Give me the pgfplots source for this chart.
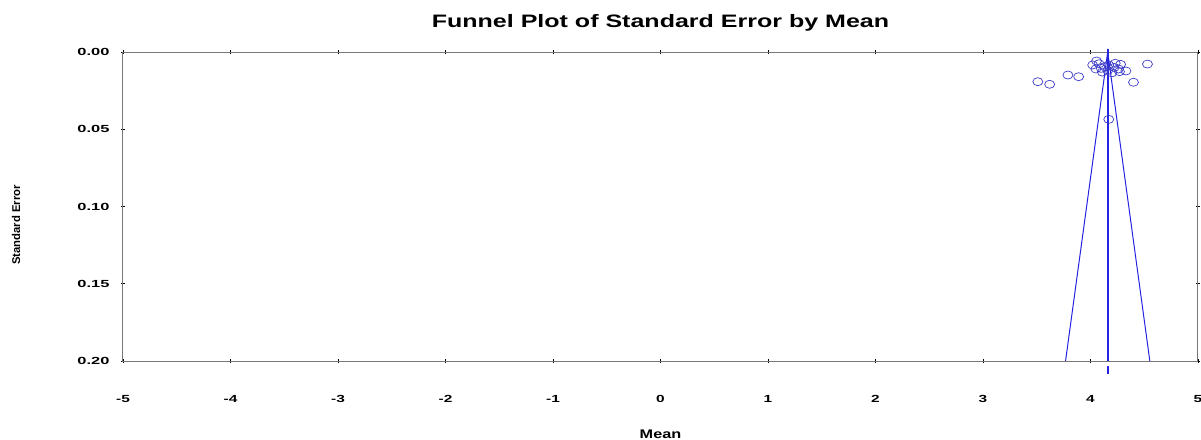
\documentclass[border=0pt]{standalone}
\usepackage{pgfplots}
\pgfplotsset{compat=1.18}
\usepackage{fontspec}
\setmainfont{Liberation Sans}
\definecolor{fblue}{RGB}{35,35,225}
\definecolor{fcirc}{RGB}{60,60,200}
\definecolor{axgray}{RGB}{120,120,120}
\begin{document}
\begin{tikzpicture}
\path[use as bounding box] (-123pt,-78pt) rectangle (1078pt,361pt);
\begin{axis}[
  at={(0pt,0pt)}, anchor=south west,
  scale only axis, width=1075pt, height=309pt,
  xmin=-5, xmax=5, ymin=0, ymax=0.2, y dir=reverse,
  xtick={-5,-4,-3,-2,-1,0,1,2,3,4,5},
  ytick={0,0.05,0.1,0.15,0.2},
  axis line style={draw=axgray, line width=1pt},
  tick style={draw=black, line width=0.6pt},
  tick align=center, major tick length=4pt,
  /pgf/number format/assume math mode=true,
  xticklabel={\scalebox{1.5}[1]{\pgfmathprintnumber[fixed]{\tick}}},
  yticklabel={\scalebox{1.6}[1]{\pgfmathprintnumber[fixed,precision=2,zerofill]{\tick}}},
  ticklabel style={font=\fontsize{10.3}{12}\selectfont\bfseries},
  xticklabel style={yshift=-29pt},
  yticklabel style={xshift=-8pt},
  clip=false,
]
% funnel
\addplot[draw=fblue, line width=1pt] coordinates {(3.768,0.2) (4.16,0) (4.552,0.2)};
\addplot[draw=fblue, line width=1.4pt] coordinates {(4.163,-0.002) (4.163,0.2)};
\addplot[draw=fblue, line width=1.8pt] coordinates {(4.163,0.2035) (4.163,0.2085)};
% studies
\addplot[only marks, mark=o, mark size=4pt, mark options={draw=fcirc, xscale=1.25, line width=0.7pt}] coordinates {
(3.51,0.0192) (3.62,0.0209) (3.79,0.0149) (3.89,0.0160)
(4.40,0.0196) (4.53,0.0078) (4.17,0.0436)
(4.056,0.0058) (4.02,0.0084) (4.05,0.0110) (4.10,0.0106)
(4.13,0.0095) (4.17,0.0084) (4.22,0.0100) (4.26,0.0110)
(4.23,0.0073) (4.28,0.0080) (4.33,0.0123) (4.27,0.0127)
(4.11,0.0130) (4.08,0.0076) (4.16,0.0120) (4.20,0.0135)
};
\node[anchor=base, font=\fontsize{18}{20}\selectfont\bfseries] at (axis description cs:0.5,1) [yshift=25pt] {\scalebox{1.39}[1]{Funnel Plot of Standard Error by Mean}};
\node[xshift=-107pt, rotate=90, font=\fontsize{11.3}{13}\selectfont\bfseries] at (axis description cs:0,0.44) {Standard Error};
\node[anchor=base, font=\fontsize{12.5}{14}\selectfont\bfseries] at (axis description cs:0.5,0) [yshift=-77pt] {\scalebox{1.3}[1]{Mean}};
\end{axis}
\end{tikzpicture}
\end{document}
